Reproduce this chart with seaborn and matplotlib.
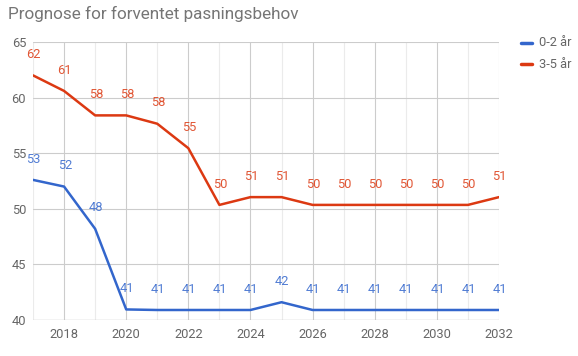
import pandas as pd
import matplotlib.pyplot as plt
import seaborn as sns
from matplotlib.ticker import MultipleLocator

# Data
years = list(range(2017, 2033))
small = [52.6, 52.0, 48.2, 40.95, 40.9, 40.9, 40.9, 40.9, 41.6, 40.9, 40.9, 40.9, 40.9, 40.9, 40.9, 40.9]
big = [62.0, 60.6, 58.4, 58.4, 57.65, 55.45, 50.35, 51.05, 51.05, 50.35, 50.35, 50.35, 50.35, 50.35, 50.35, 51.05]
series_names = ["0-2 år", "3-5 år"]
colors = ["#3366cc", "#dc3912"]

df = pd.DataFrame({
    "year": years * 2,
    "value": small + big,
    "group": [series_names[0]] * len(years) + [series_names[1]] * len(years),
})

sns.set_style("white")
plt.rcParams["font.family"] = ["Roboto", "DejaVu Sans"]

fig = plt.figure(figsize=(5.78, 3.56), dpi=100)
ax = fig.add_axes([33 / 578, 1 - 320 / 356, (499 - 33) / 578, (320 - 42) / 356])

sns.lineplot(data=df, x="year", y="value", hue="group", palette=colors,
             linewidth=1.8, ax=ax, legend=False, zorder=3)

# Data labels above each point
for name, col, vals in zip(series_names, colors, [small, big]):
    for x, y in zip(years, vals):
        ax.annotate(str(int(round(y))), (x, y), xytext=(0.5, 15), textcoords="offset points",
                    ha="center", va="center", fontsize=9.3, color=col, alpha=0.85, zorder=4)

ax.set_xlim(2017, 2032)
ax.set_ylim(40, 65)
ax.xaxis.set_major_locator(MultipleLocator(2))
ax.xaxis.set_minor_locator(MultipleLocator(1))
ax.yaxis.set_major_locator(MultipleLocator(5))
ax.grid(which="major", color="#cccccc", linewidth=0.8)
ax.grid(which="minor", axis="x", color="#ebebeb", linewidth=0.8)
for s in ax.spines.values():
    s.set_visible(False)
ax.axhline(40, color="#bbbbbb", linewidth=0.9, zorder=2)
ax.tick_params(axis="both", length=0, labelsize=9.3, labelcolor="#666666", pad=6)
ax.tick_params(axis="y", pad=5)
ax.set_xlabel("")
ax.set_ylabel("")

fig.text(8 / 578, 1 - 14 / 356, "Prognose for forventet pasningsbehov", fontsize=12.3,
         color="#757575", ha="left", va="center")

# Legend drawn by hand in figure coordinates
for i, (name, col) in enumerate(zip(series_names, colors)):
    yy = 1 - (43 + i * 21) / 356
    fig.add_artist(plt.Line2D([521 / 578, 532 / 578], [yy, yy], color=col, linewidth=2.5,
                              transform=fig.transFigure))
    fig.text(539 / 578, yy, name, fontsize=9.3, color="#666666", ha="left", va="center")

fig.savefig("out.png", dpi=100)
